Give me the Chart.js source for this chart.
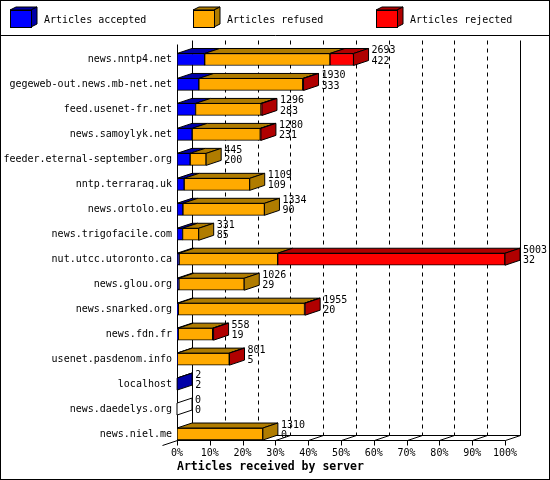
<!DOCTYPE html>
<html>
<head>
<meta charset="utf-8">
<script src="https://cdn.jsdelivr.net/npm/chart.js@4.4.0/dist/chart.umd.min.js"></script>
<style>
  html, body { margin: 0; padding: 0; background: #fff; }
  canvas { display: block; }
</style>
</head>
<body>
<canvas id="chart" width="550" height="480"></canvas>
<script>
// Values
const hosts = [
    "news.nntp4.net", "gegeweb-out.news.mb-net.net", "feed.usenet-fr.net",
    "news.samoylyk.net", "feeder.eternal-september.org", "nntp.terraraq.uk",
    "news.ortolo.eu", "news.trigofacile.com", "nut.utcc.utoronto.ca",
    "news.glou.org", "news.snarked.org", "news.fdn.fr",
    "usenet.pasdenom.info", "localhost", "news.daedelys.org", "news.niel.me"
]
const totalArticles = [2693, 1930, 1296, 1280, 445, 1109, 1334, 331, 5003, 1026, 1955, 558, 801, 2, 0, 1310]
const accepted = [422, 333, 283, 231, 200, 109, 90, 85, 32, 29, 20, 19, 5, 2, 0, 0]
const refused = [1911, 1585, 998, 1039, 245, 1000, 1244, 246, 1504, 997, 1925, 525, 792, 0, 0, 1310]
const rejected = [360, 12, 15, 10, 0, 0, 0, 0, 3467, 0, 10, 14, 4, 0, 0, 0]
const percentTicks = [0, 10, 20, 30, 40, 50, 60, 70, 80, 90, 100]
const seriesNames = ["Articles accepted", "Articles refused", "Articles rejected"]

// Styles
const frontColors = ['#0000ff', '#ffaa00', '#ff0000']
const darkColors = ['#0000a8', '#b07c00', '#b00000']
const DX = 15, DY = -5      // depth of the 3d boxes
const barSize = 12
const maxTotal = Math.max(...totalArticles)

Chart.defaults.font.family = "'DejaVu Sans Mono', monospace"
Chart.defaults.font.size = 10
Chart.defaults.color = '#000'

function line(ctx, x1, y1, x2, y2) {
    ctx.beginPath()
    ctx.moveTo(Math.round(x1) + 0.5, Math.round(y1) + 0.5)
    ctx.lineTo(Math.round(x2) + 0.5, Math.round(y2) + 0.5)
    ctx.stroke()
}

function poly(ctx, pts, fill) {
    ctx.beginPath()
    ctx.moveTo(pts[0][0], pts[0][1])
    for (let k = 1; k < pts.length; k++) ctx.lineTo(pts[k][0], pts[k][1])
    ctx.closePath()
    ctx.fillStyle = fill
    ctx.fill()
    ctx.stroke()
}

// Back wall, floor and the 3d faces of the bars
const depthPlugin = {
    id: 'depth',
    beforeDatasetsDraw(chart) {
        const {ctx, chartArea: a, scales: {x, y}} = chart
        const floor = y.getPixelForValue(hosts.length - 1) + barSize / 2
        const top = a.top - 7
        ctx.save()
        ctx.strokeStyle = '#000'
        ctx.lineWidth = 1
        x.ticks.forEach((t, k) => {
            const px = x.getPixelForValue(t.value)
            const last = k === x.ticks.length - 1
            ctx.setLineDash(k === 0 || last ? [] : [4, 4])
            line(ctx, px + DX, top, px + DX, floor + DY)
            ctx.setLineDash([])
            line(ctx, px, floor, px + DX, floor + DY)
            line(ctx, px, floor, px, floor + 5)
        })
        line(ctx, a.left + DX, floor + DY, a.right + DX, floor + DY)
        line(ctx, a.left, floor, a.right, floor)
        line(ctx, a.left, top + 4, a.left, floor)
        line(ctx, a.left, floor, a.left - DX, floor - DY)
        ctx.restore()
    },
    afterDatasetsDraw(chart) {
        const {ctx, scales: {x}} = chart
        const metas = chart.data.datasets.map((ds, d) => chart.getDatasetMeta(d))
        ctx.save()
        ctx.strokeStyle = '#000'
        ctx.lineWidth = 1
        hosts.forEach((h, i) => {
            let last = null
            metas.forEach((m, d) => {
                const el = m.data[i]
                if (!chart.data.datasets[d].data[i]) return
                const t = el.y - el.height / 2
                const x0 = Math.min(el.base, el.x), x1 = Math.max(el.base, el.x)
                poly(ctx, [[x0, t], [x0 + DX, t + DY], [x1 + DX, t + DY], [x1, t]], darkColors[d])
                last = {x1, d}
            })
            const ref = metas[0].data[i]
            const t = ref.y - ref.height / 2, b = ref.y + ref.height / 2
            const endX = last ? last.x1 : x.getPixelForValue(0)
            const fill = last ? darkColors[last.d] : '#fff'
            poly(ctx, [[endX, t], [endX + DX, t + DY], [endX + DX, b + DY], [endX, b]], fill)

            // total / accepted labels
            ctx.fillStyle = '#000'
            ctx.font = "10px 'DejaVu Sans Mono', monospace"
            ctx.textAlign = 'left'
            ctx.textBaseline = 'middle'
            ctx.fillText(String(totalArticles[i]), endX + DX + 3, ref.y - 9)
            ctx.fillText(String(accepted[i]), endX + DX + 3, ref.y + 1.5)
        })
        ctx.restore()
    },
    afterDraw(chart) {
        const {ctx, width, height} = chart
        ctx.save()
        ctx.strokeStyle = '#000'
        ctx.lineWidth = 1
        ctx.strokeRect(0.5, 0.5, width - 1, height - 1)
        line(ctx, 0, 35, width, 35)
        // legend with little 3d boxes
        chart.data.datasets.forEach((ds, d) => {
            const bx = 10 + 183 * d, by = 10, bw = 21, bh = 17
            poly(ctx, [[bx, by], [bx + 6, by - 3], [bx + bw + 6, by - 3], [bx + bw, by]], darkColors[d])
            poly(ctx, [[bx + bw, by], [bx + bw + 6, by - 3], [bx + bw + 6, by + bh - 3], [bx + bw, by + bh]], darkColors[d])
            ctx.fillStyle = frontColors[d]
            ctx.fillRect(bx, by, bw, bh)
            ctx.strokeRect(bx + 0.5, by + 0.5, bw, bh)
            ctx.fillStyle = '#000'
            ctx.font = "10px 'DejaVu Sans Mono', monospace"
            ctx.textAlign = 'left'
            ctx.textBaseline = 'middle'
            ctx.fillText(ds.label, bx + 34, 20)
        })
        ctx.restore()
    }
}

const ctx = document.getElementById("chart")
const serverChart = new Chart(ctx, {
    type: "bar",
    data: {
        labels: hosts,
        datasets: [accepted, refused, rejected].map((values, d) => ({
            label: seriesNames[d],
            data: values,
            backgroundColor: frontColors[d],
            borderColor: '#000',
            borderWidth: 1,
            borderSkipped: false,
            barThickness: barSize
        }))
    },
    options: {
        indexAxis: 'y',
        responsive: false,
        animation: false,
        devicePixelRatio: 1,
        layout: {
            padding: {top: 47, right: 45, left: 0, bottom: 0}
        },
        scales: {
            x: {
                stacked: true,
                min: 0,
                max: maxTotal,
                grid: {display: false, drawTicks: false},
                border: {display: false},
                afterBuildTicks: scale => {
                    scale.ticks = percentTicks.map(p => ({value: p / 100 * maxTotal}))
                },
                afterFit: scale => { scale.height = 33.5 },
                ticks: {
                    padding: 1,
                    maxRotation: 0,
                    autoSkip: false,
                    callback: value => Math.round(value / maxTotal * 100) + '%'
                },
                title: {
                    display: true,
                    text: 'Articles received by server',
                    align: 'start',
                    font: {size: 11.5, weight: 'bold'},
                    padding: {top: 0, bottom: 6}
                }
            },
            y: {
                stacked: true,
                grid: {display: false, drawTicks: false},
                border: {display: false},
                afterFit: scale => { scale.width = 177 },
                ticks: {padding: 5, autoSkip: false}
            }
        },
        plugins: {
            legend: {display: false},
            tooltip: {enabled: false}
        }
    },
    plugins: [depthPlugin]
})
</script>
</body>
</html>
